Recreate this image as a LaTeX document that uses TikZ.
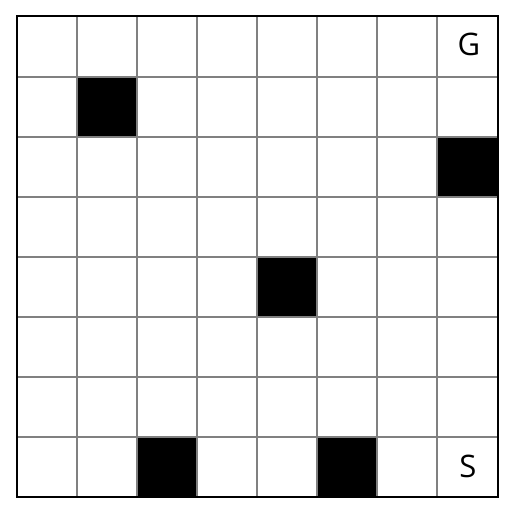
\documentclass[tikz,border=0pt]{standalone}
\usepackage{fontspec}
\setmainfont{Open Sans}
\begin{document}
\begin{tikzpicture}[x=1pt,y=-1pt,
  gridline/.style={draw=black!50,line width=1.5pt},
  wall/.style={fill=black},
  frame/.style={draw=black,line width=2pt},
  lbl/.style={font=\fontsize{31}{31}\selectfont,inner sep=0pt}]
\useasboundingbox (0,0) rectangle (512,510);
\fill[white] (0,0) rectangle (512,510);
% walls
\foreach \c/\r in {1/1,7/2,4/4,2/7,5/7}
  \fill[wall] ({17+60*\c},{17+60*\r}) rectangle ++(60,60);
% grid
\foreach \i in {1,...,7} {
  \draw[gridline] ({17+60*\i},17) -- ({17+60*\i},497);
  \draw[gridline] (17,{17+60*\i}) -- (497,{17+60*\i});
}
\draw[frame] (16.5,16.5) rectangle (497.5,497.5);
\node[lbl] (G) at (469,44) {G};
\node[lbl] (S) at (468,466) {S};
\end{tikzpicture}
\end{document}
